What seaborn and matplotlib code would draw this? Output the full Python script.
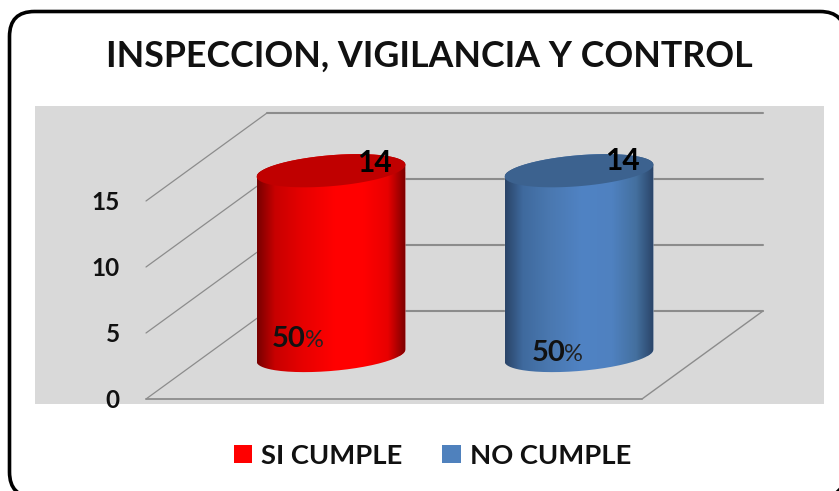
import numpy as np
import pandas as pd
import matplotlib
matplotlib.use("Agg")
import matplotlib.pyplot as plt
from matplotlib.colors import LinearSegmentedColormap, to_rgb
from matplotlib.patches import FancyBboxPatch, Patch, PathPatch, Polygon, Rectangle
from matplotlib.path import Path
import seaborn as sns

# ---- data
categories = ["SI CUMPLE", "NO CUMPLE"]
values = [14, 14]
shares = [50, 50]
y_ticks = [0, 5, 10, 15]
title = "INSPECCION, VIGILANCIA Y CONTROL"

# ---- styles
W, H = 839, 491
colors = ["#FF0000", "#4F81BD"]
top_colors = ["#C00000", "#3C628F"]
gradients = [
    ["#780000", "#C80000", "#E60000", "#FF0000", "#FF0000", "#E80000", "#7A0000"],
    ["#2A4468", "#3F6A9E", "#4A78B0", "#5083C4", "#4F81C0", "#44709F", "#2A4468"],
]
grad_pos = [0.0, 0.12, 0.30, 0.52, 0.72, 0.88, 1.0]
grid_color = "#8C8C8C"
FONT = "Lato"

sns.set_theme(style="white")
plt.rcParams["font.family"] = [FONT, "DejaVu Sans"]

fig = plt.figure(figsize=(W / 100, H / 100), dpi=100, facecolor="white")


def box(left, right, top, bottom):
    return [left / W, 1 - bottom / H, (right - left) / W, (bottom - top) / H]


# ---- background: rounded frame and grey panel (pixel coordinates)
bg = fig.add_axes([0, 0, 1, 1], zorder=0)
bg.set_xlim(0, W)
bg.set_ylim(H, 0)
bg.axis("off")
rad = 25
bg.add_patch(FancyBboxPatch((9.5 + rad, 11.5 + rad), 845 - 9.5 - 2 * rad, 497 - 11.5 - 2 * rad,
                            boxstyle=f"round,pad={rad},rounding_size={rad}",
                            fc="white", ec="black", lw=2.6, clip_on=True))
bg.add_patch(Rectangle((35, 106), 789, 298, fc="#D9D9D9", ec="none"))

# ---- front plane: value axis and the oblique walls
xlim = (-0.5, 1.5)
ylim = (0, 15)
ax = fig.add_axes(box(146, 642, 201, 399), zorder=1)
ax.patch.set_alpha(0)
ax.set_xlim(*xlim)
ax.set_ylim(*ylim)
for s in ax.spines.values():
    s.set_visible(False)
ax.set_xticks([])
ax.set_yticks(y_ticks)
ax.set_yticklabels([str(t) for t in y_ticks], fontsize=17.5, fontweight="bold", color="#111111")
ax.tick_params(axis="y", length=0, pad=19)

dx = 121 / 248          # wall depth in x units
dy = 88 / 13.2          # wall depth in y units
xl, xr = xlim
for t in y_ticks:
    ax.plot([xl, xl + dx], [t, t + dy], color=grid_color, lw=0.9, clip_on=False)
    ax.plot([xl + dx, xr + dx], [t + dy, t + dy], color=grid_color, lw=1.5, clip_on=False)
ax.plot([xl, xr], [0, 0], color=grid_color, lw=1.3, clip_on=False)
ax.plot([xr, xr + dx], [0, dy], color=grid_color, lw=1.0, clip_on=False)

# ---- cylinders sit half way in depth; the axes has room above and below for the ellipses
bar_ylim = (-3, 18)
ax_bar = fig.add_axes(box(146 + 61, 642 + 61, 355.5 - 18 * 13.2, 355.5 + 3 * 13.2), zorder=2)
ax_bar.patch.set_alpha(0)
df = pd.DataFrame({"cat": categories, "val": values})
bar_w = 0.6
sns.barplot(data=df, x="cat", y="val", hue="cat", palette=colors, width=bar_w,
            saturation=1, legend=False, ax=ax_bar)
ax_bar.set_xlim(*xlim)
ax_bar.set_ylim(*bar_ylim)
ax_bar.axis("off")

rx = bar_w / 2
ry = 15.5 / 13.2
tilt = 6 / 13.2


def arc(cx, cy, t0, t1, n=80):
    t = np.linspace(t0, t1, n)
    return np.column_stack([cx + rx * np.cos(t), cy + tilt * np.cos(t) + ry * np.sin(t)])


for i, (bar, v) in enumerate(zip(ax_bar.patches, values)):
    lower = arc(i, 0, np.pi, 2 * np.pi)
    upper = arc(i, v, 0, np.pi)
    verts = np.vstack([lower, upper, lower[:1]])
    body = PathPatch(Path(verts), transform=ax_bar.transData, fc="none", ec="none")
    ax_bar.add_patch(body)
    bar.set_clip_path(body)
    cmap = LinearSegmentedColormap.from_list(
        f"c{i}", [(p, to_rgb(c)) for p, c in zip(grad_pos, gradients[i])])
    im = ax_bar.imshow(np.linspace(0, 1, 256)[None, :], cmap=cmap, aspect="auto",
                       extent=(i - rx, i + rx, -3, v + 3), zorder=3)
    im.set_clip_path(body)
    ax_bar.add_patch(Polygon(arc(i, v, 0, 2 * np.pi), closed=True, fc=top_colors[i],
                             ec="none", zorder=4))
ax_bar.set_xlim(*xlim)
ax_bar.set_ylim(*bar_ylim)

# ---- data labels
value_xy = [(0.175, 14.6), (1.175, 14.75)]
share_xy = [(-0.237, 0.68), (0.808, -0.45)]
for (vx, vy), (sx, sy), v, p in zip(value_xy, share_xy, values, shares):
    ax_bar.text(vx, vy, str(v), fontsize=21.5, fontweight="bold", color="black",
                ha="center", va="center", zorder=6)
    ax_bar.text(sx, sy, str(p), fontsize=21, fontweight="bold", color="#111111",
                ha="left", va="baseline", zorder=6)
    ax_bar.text(sx + 0.133, sy, "%", fontsize=17, color="#222222",
                ha="left", va="baseline", zorder=6)

# ---- title and legend
fig.text(429 / W, 1 - 56 / H, title, fontsize=25.75, fontweight="bold", color="#111111",
         ha="center", va="center")
handles = [Patch(fc=c, ec="none", label=l) for c, l in zip(colors, categories)]
fig.legend(handles=handles, ncol=2, loc="center", bbox_to_anchor=(432.5 / W, 1 - 455.5 / H),
           frameon=False, prop={"size": 19.7, "weight": "bold"},
           handlelength=0.66, handleheight=0.66, handletextpad=0.33, columnspacing=1.46,
           labelcolor="#111111")

fig.savefig("out.png", dpi=100)
